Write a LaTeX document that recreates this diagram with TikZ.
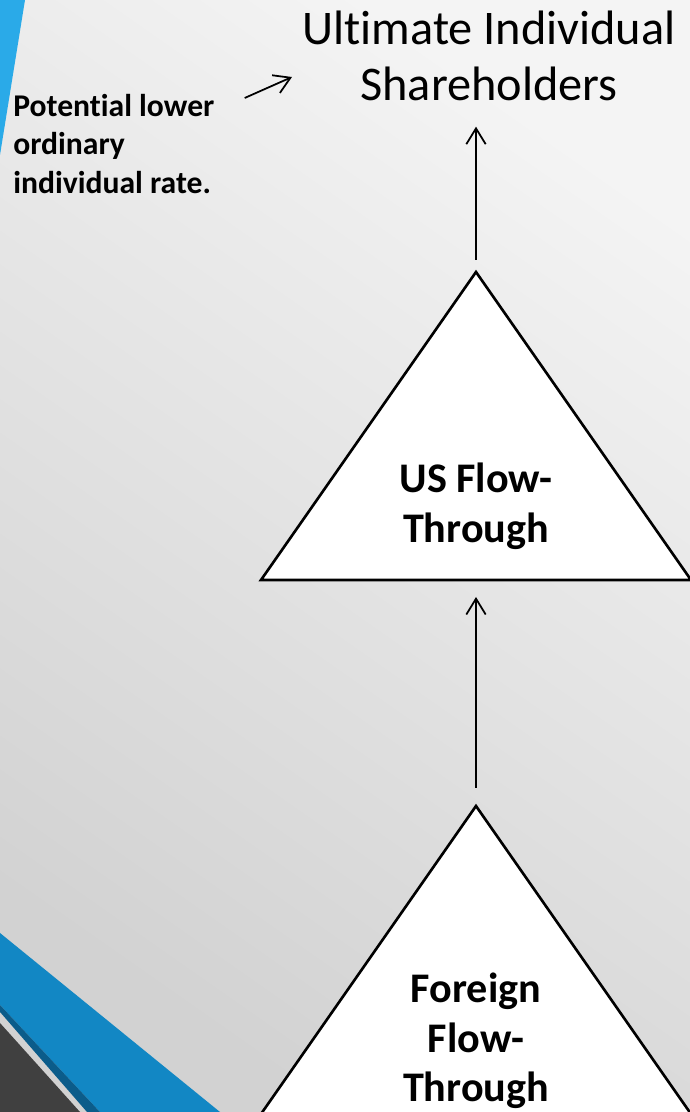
\documentclass[tikz,border=0pt]{standalone}
\usepackage{fontspec}
\setmainfont{Carlito}[RawFeature={-liga;-clig;-calt;-dlig}]
\usetikzlibrary{arrows.meta,calc}
\definecolor{bgTop}{HTML}{F4F4F4}
\definecolor{bgBot}{HTML}{D2D2D2}
\definecolor{stripeBlue}{HTML}{2AAAE8}
\definecolor{bandBlue}{HTML}{1287C4}
\definecolor{bandDark}{HTML}{0B5C8A}
\definecolor{cornerGrey}{HTML}{404040}
\begin{document}
\begin{tikzpicture}[
    tri/.style={draw=black, fill=white, line width=1.5pt, line join=miter},
    arr/.style={-{Straight Barb[length=9pt,width=11pt]}, line width=1pt},
    tlabel/.style={align=center, inner sep=0pt, font=\bfseries\fontsize{24}{28.3}\selectfont}
]
    \useasboundingbox (0,0) rectangle (13.8,22.24);
    \clip (0,0) rectangle (13.8,22.24);

    % background and corner bands
    \fill[top color=bgTop, bottom color=bgBot, shading angle=-35] (0,0) rectangle (13.8,22.24);
    \fill[stripeBlue] (0,22.24) -- (0.5,22.24) -- (0,19.14) -- cycle;
    \fill[bandBlue] (0,3.58) -- (4.4,0) -- (2.0,0) -- (0,2.14) -- cycle;
    \fill[bandDark] (0,2.14) -- (2.0,0) -- (1.74,0) -- (0,2.0) -- cycle;
    \fill[cornerGrey] (0,1.78) -- (1.6,0) -- (0,0) -- cycle;

    % triangles
    \coordinate (usTop) at (9.52,16.80);
    \coordinate (usLeft) at (5.22,10.64);
    \coordinate (usRight) at (13.82,10.64);
    \coordinate (frTop) at (9.52,6.12);
    \coordinate (frLeft) at (5.22,-0.04);
    \coordinate (frRight) at (13.82,-0.04);
    \draw[tri] (usTop) -- (usLeft) -- (usRight) -- cycle;
    \draw[tri] (frTop) -- (frLeft) -- (frRight) -- cycle;

    \node[tlabel] (usft) at (9.52,12.12) {US Flow-\\Through};
    \node[tlabel] (forft) at (9.52,1.42) {Foreign\\Flow-\\Through};

    \node[align=center, inner sep=0pt, font=\fontsize{27.5}{32.3}\selectfont] (ultimate) at (9.78,21.12) {Ultimate Individual\\Shareholders};
    \node[align=left, anchor=north west, inner sep=0pt, font=\bfseries\fontsize{18}{21.8}\selectfont] (note) at (0.26,20.36) {Potential lower\\ordinary\\individual rate.};

    % arrows
    \draw[arr] ([yshift=0.24cm]usTop) -- ($(usTop |- ultimate.south)+(0,-0.5)$);
    \draw[arr] ([yshift=0.36cm]frTop) -- ($(usTop |- usLeft)+(0,-0.34)$);
    \draw[arr] ($(note.north east)+(0.6,-0.08)$) -- ($(ultimate.west)+(-0.2,-0.42)$);
\end{tikzpicture}
\end{document}
